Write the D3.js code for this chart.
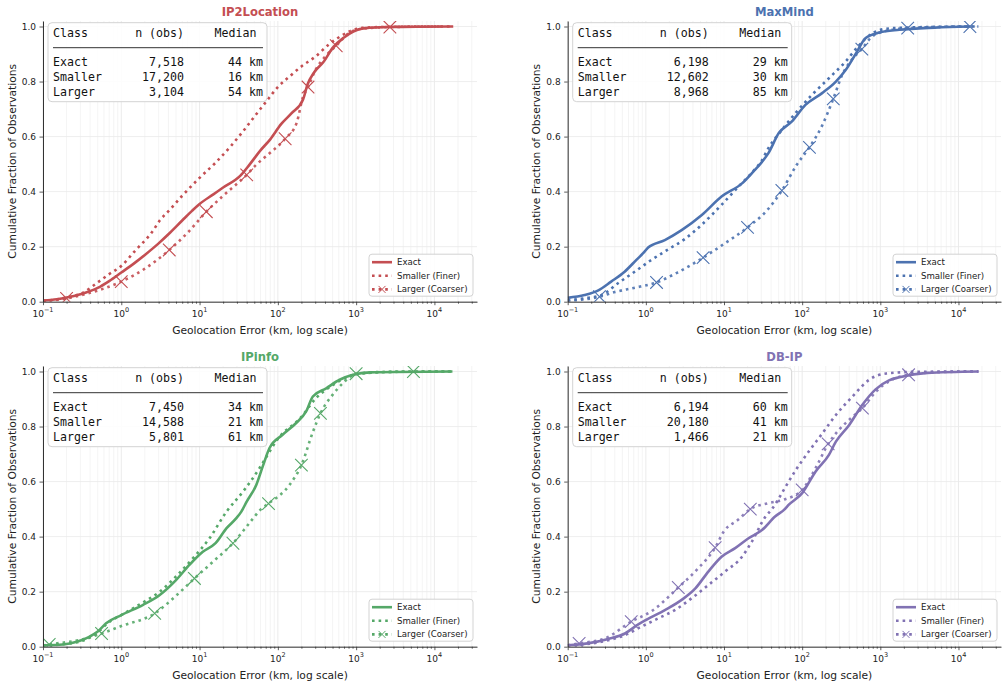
<!DOCTYPE html>
<html><head><meta charset="utf-8">
<script src="https://cdn.jsdelivr.net/npm/d3@7"></script>
<style>
body{margin:0;background:#fff;}
svg{display:block;font-family:"DejaVu Sans",sans-serif;}
</style></head><body>
<svg id="chart" width="1008" height="688"></svg>
<script>
// ---------------- DATA ----------------
const providers = ["IP2Location", "MaxMind", "IPinfo", "DB-IP"];
const seriesNames = ["Exact", "Smaller (Finer)", "Larger (Coarser)"];
const tableClasses = ["Exact", "Smaller", "Larger"];
const xTickValues = [0.1, 1, 10, 100, 1000, 10000];
const xTickExponents = ["\u22121", "0", "1", "2", "3", "4"];
const yTickValues = [0, 0.2, 0.4, 0.6, 0.8, 1.0];

// n (obs) and median (km) per class: Exact, Smaller, Larger
const ip2N = [7518, 17200, 3104];
const ip2Median = [44, 16, 54];
const maxN = [6198, 12602, 8968];
const maxMedian = [29, 30, 85];
const ipinfoN = [7450, 14588, 5801];
const ipinfoMedian = [34, 21, 61];
const dbipN = [6194, 20180, 1466];
const dbipMedian = [60, 41, 21];

// ECDF points: [error km, cumulative fraction]
const ip2Exact = [[0.1,0.004],[0.15,0.009],[0.2,0.015],[0.3,0.027],[0.5,0.05],[0.7,0.075],[1.0,0.106],[1.5,0.142],[2,0.17],[3,0.212],[4,0.245],[6,0.295],[8,0.33],[10,0.355],[15,0.39],[20,0.415],[33,0.457],[44,0.5],[60,0.55],[80,0.59],[110,0.645],[150,0.685],[210,0.735],[240,0.79],[290,0.833],[380,0.87],[510,0.925],[700,0.96],[920,0.982],[1300,0.994],[2500,0.998],[6000,0.999],[17400,1.0]];
const ip2Smaller = [[0.1,0.003],[0.2,0.015],[0.32,0.032],[0.5,0.07],[0.7,0.1],[1.0,0.13],[1.5,0.185],[2.5,0.255],[3.1,0.295],[4.2,0.335],[6,0.385],[10,0.45],[16,0.505],[25,0.565],[35,0.615],[50,0.672],[70,0.725],[100,0.78],[150,0.825],[200,0.855],[300,0.89],[450,0.935],[620,0.963],[850,0.984],[1200,0.995],[3000,0.999],[17400,1.0]];
const ip2Larger = [[0.1,0.002],[0.2,0.012],[0.35,0.028],[0.6,0.048],[1.0,0.073],[2.0,0.12],[4.1,0.188],[7,0.25],[12.2,0.327],[20,0.385],[40,0.461],[54,0.5],[79,0.54],[124,0.592],[174,0.65],[210,0.745],[243,0.78],[300,0.84],[400,0.89],[557,0.93],[800,0.975],[1200,0.992],[2700,0.998],[12000,1.0]];
const ip2LargerMarks = [0.2, 1.0, 4.1, 12.2, 40, 124, 243, 557, 2700];

const maxExact = [[0.1,0.014],[0.164,0.024],[0.243,0.04],[0.36,0.073],[0.535,0.109],[0.757,0.152],[0.95,0.18],[1.07,0.197],[1.75,0.224],[2.87,0.26],[5.2,0.315],[9.3,0.382],[17,0.43],[25,0.48],[29,0.5],[37,0.54],[50,0.612],[74,0.655],[110,0.715],[180,0.758],[270,0.8],[360,0.842],[490,0.903],[650,0.958],[970,0.978],[1750,0.988],[5000,0.996],[14000,1.0]];
const maxSmaller = [[0.1,0.005],[0.18,0.014],[0.27,0.024],[0.44,0.067],[0.72,0.109],[1.18,0.152],[1.93,0.19],[3.16,0.228],[5.2,0.28],[9.3,0.352],[15.3,0.418],[25,0.482],[30,0.51],[37,0.558],[55,0.624],[82,0.685],[134,0.752],[220,0.812],[360,0.873],[540,0.933],[800,0.976],[1290,0.993],[4000,0.998],[18000,1.0]];
const maxLarger = [[0.1,0.003],[0.15,0.007],[0.255,0.018],[0.4,0.035],[0.7,0.05],[1.37,0.07],[2.5,0.105],[5.4,0.16],[10,0.21],[20,0.27],[35,0.33],[55,0.404],[85,0.497],[124,0.561],[180,0.64],[250,0.737],[325,0.824],[430,0.879],[580,0.918],[750,0.958],[1000,0.978],[2240,0.994],[14000,1.0],[18000,1.0]];
const maxLargerMarks = [0.255, 1.37, 5.4, 20, 55, 124, 250, 580, 2240, 14000];

const ipinfoExact = [[0.1,0.005],[0.18,0.008],[0.27,0.018],[0.39,0.036],[0.5,0.055],[0.64,0.085],[1.0,0.115],[1.9,0.152],[3.1,0.188],[5,0.242],[7.4,0.297],[11,0.345],[16,0.376],[22,0.43],[29.5,0.467],[34,0.49],[40,0.527],[53,0.588],[65,0.66],[78,0.721],[115,0.77],[170,0.812],[230,0.855],[280,0.909],[415,0.939],[615,0.97],[910,0.988],[1500,0.997],[17000,1.0]];
const ipinfoSmaller = [[0.1,0.004],[0.27,0.016],[0.48,0.048],[0.71,0.091],[1.0,0.115],[1.9,0.161],[3.1,0.2],[5,0.255],[8.2,0.321],[13.4,0.394],[22,0.49],[36,0.564],[58,0.648],[68,0.68],[100,0.755],[200,0.835],[300,0.9],[500,0.95],[1000,0.99],[2000,0.998],[17000,1.0]];
const ipinfoLarger = [[0.1,0.004],[0.12,0.008],[0.3,0.025],[0.56,0.048],[1.0,0.075],[2.67,0.121],[5,0.185],[8.6,0.248],[15,0.31],[26.7,0.376],[45,0.455],[61,0.5],[76,0.52],[141,0.588],[200,0.66],[280,0.78],[350,0.848],[500,0.915],[680,0.958],[1000,0.992],[5400,1.0],[17000,1.0]];
const ipinfoLargerMarks = [0.12, 0.56, 2.67, 8.6, 26.7, 76, 200, 350, 1000, 5400];

const dbipExact = [[0.1,0.005],[0.18,0.012],[0.33,0.028],[0.54,0.048],[0.8,0.081],[1.0,0.097],[1.75,0.133],[2.87,0.17],[4.3,0.212],[6.3,0.273],[9.3,0.327],[13.9,0.358],[20.6,0.394],[30.6,0.424],[45,0.473],[60,0.5],[67,0.515],[100,0.558],[148,0.636],[220,0.697],[270,0.745],[400,0.806],[590,0.879],[870,0.935],[1290,0.968],[1750,0.979],[4000,0.995],[18000,1.0]];
const dbipSmaller = [[0.1,0.004],[0.27,0.018],[0.54,0.042],[0.88,0.073],[1.44,0.103],[2.35,0.133],[3.85,0.176],[6.3,0.224],[10.3,0.273],[17,0.327],[22.7,0.382],[34,0.473],[41,0.5],[61,0.58],[82,0.64],[122,0.71],[181,0.775],[270,0.842],[440,0.909],[720,0.97],[1200,0.993],[3000,0.999],[18000,1.0]];
const dbipLarger = [[0.1,0.005],[0.14,0.012],[0.3,0.03],[0.65,0.091],[1.2,0.13],[2.6,0.215],[4.5,0.28],[7.7,0.36],[10,0.42],[15,0.46],[21.7,0.5],[36,0.521],[59,0.535],[100,0.57],[148,0.648],[215,0.737],[300,0.79],[420,0.83],[590,0.867],[900,0.93],[1300,0.965],[2300,0.988],[5000,0.997],[18000,1.0]];
const dbipLargerMarks = [0.14, 0.65, 2.6, 7.7, 21.7, 100, 215, 590, 2300];

// ---------------- ASSEMBLY ----------------
const panelColors = ["#C44E52", "#4C72B0", "#55A868", "#8172B3"];
const panelData = [
  {title: providers[0], n: ip2N, med: ip2Median, series: [ip2Exact, ip2Smaller, ip2Larger], marks: ip2LargerMarks},
  {title: providers[1], n: maxN, med: maxMedian, series: [maxExact, maxSmaller, maxLarger], marks: maxLargerMarks},
  {title: providers[2], n: ipinfoN, med: ipinfoMedian, series: [ipinfoExact, ipinfoSmaller, ipinfoLarger], marks: ipinfoLargerMarks},
  {title: providers[3], n: dbipN, med: dbipMedian, series: [dbipExact, dbipSmaller, dbipLarger], marks: dbipLargerMarks}
];
const layouts = [
  {x0: 43, x1: 477, yTop: 21, yBot: 301.7},
  {x0: 567.7, x1: 1001, yTop: 21, yBot: 301.7},
  {x0: 43, x1: 477, yTop: 366, yBot: 646.7},
  {x0: 567.7, x1: 1001, yTop: 366, yBot: 646.7}
];
const xDomain = [0.1, 35000];
const yDomain = [0, 1.02];
const LW = 2.6;
const DOT = "2.6,4.0";

const svg = d3.select("#chart");
const fmtN = d3.format(",");

function interpY(series, xv) {
  const lx = Math.log10(xv);
  for (let i = 0; i < series.length - 1; i++) {
    const a = Math.log10(series[i][0]), b = Math.log10(series[i+1][0]);
    if (lx >= a && lx <= b) {
      const t = b === a ? 0 : (lx - a) / (b - a);
      return series[i][1] + t * (series[i+1][1] - series[i][1]);
    }
  }
  return series[series.length-1][1];
}

function drawX(g, cx, cy, r, color, sw) {
  g.append("path")
    .attr("d", `M${cx-r},${cy-r}L${cx+r},${cy+r}M${cx-r},${cy+r}L${cx+r},${cy-r}`)
    .attr("stroke", color).attr("stroke-width", sw).attr("fill", "none");
}

panelData.forEach((p, i) => {
  const L = layouts[i];
  const color = panelColors[i];
  const x = d3.scaleLog().domain(xDomain).range([L.x0, L.x1]);
  const y = d3.scaleLinear().domain(yDomain).range([L.yBot, L.yTop]);
  const g = svg.append("g");

  // grid
  const minor = [];
  for (let d = -1; d <= 4; d++) for (let k = 2; k <= 9; k++) {
    const v = k * Math.pow(10, d);
    if (v < xDomain[1]) minor.push(v);
  }
  g.append("g").selectAll("line").data(minor).join("line")
    .attr("x1", d => x(d)).attr("x2", d => x(d))
    .attr("y1", L.yTop).attr("y2", L.yBot)
    .attr("stroke", "#efefef").attr("stroke-width", 0.7);
  g.append("g").selectAll("line").data(xTickValues).join("line")
    .attr("x1", d => x(d)).attr("x2", d => x(d))
    .attr("y1", L.yTop).attr("y2", L.yBot)
    .attr("stroke", "#e6e6e6").attr("stroke-width", 0.8);
  g.append("g").selectAll("line").data(yTickValues).join("line")
    .attr("x1", L.x0).attr("x2", L.x1)
    .attr("y1", d => y(d)).attr("y2", d => y(d))
    .attr("stroke", "#eaeaea").attr("stroke-width", 0.8);

  // clip
  const cid = "clip" + i;
  svg.append("clipPath").attr("id", cid).append("rect")
    .attr("x", L.x0).attr("y", L.yTop).attr("width", L.x1 - L.x0).attr("height", L.yBot - L.yTop);

  const line = d3.line().x(d => x(d[0])).y(d => y(d[1])).curve(d3.curveMonotoneX);
  const lg = g.append("g").attr("clip-path", `url(#${cid})`);
  // Exact
  lg.append("path").attr("d", line(p.series[0])).attr("fill", "none")
    .attr("stroke", color).attr("stroke-width", LW).attr("stroke-linejoin", "round");
  // Smaller
  lg.append("path").attr("d", line(p.series[1])).attr("fill", "none")
    .attr("stroke", color).attr("stroke-width", LW).attr("stroke-dasharray", DOT);
  // Larger
  lg.append("path").attr("d", line(p.series[2])).attr("fill", "none")
    .attr("stroke", color).attr("stroke-width", LW).attr("stroke-dasharray", DOT).attr("opacity", 0.9);
  p.marks.forEach(m => {
    drawX(lg, x(m), y(interpY(p.series[2], m)), 6.3, color, 1.1);
  });

  // axes
  const xAxis = d3.axisBottom(x).tickValues(xTickValues).tickSize(3.5).tickSizeOuter(0).tickFormat("");
  const xa = g.append("g").attr("transform", `translate(0,${L.yBot})`).call(xAxis);
  const xMinor = d3.axisBottom(x).tickValues(minor).tickSize(2).tickSizeOuter(0).tickFormat("");
  const xm = g.append("g").attr("transform", `translate(0,${L.yBot})`).call(xMinor);
  xm.select(".domain").remove();
  [xa, xm].forEach(a => {
    a.select(".domain").attr("stroke", "#333").attr("stroke-width", 1);
    a.selectAll(".tick line").attr("stroke", "#333").attr("stroke-width", 0.8);
  });
  const xl = g.append("g");
  xTickValues.forEach((v, k) => {
    const t = xl.append("text").attr("x", x(v)).attr("y", L.yBot + 15.6)
      .attr("text-anchor", "middle").attr("fill", "#222").attr("font-size", "9px");
    t.append("tspan").text("10");
    t.append("tspan").attr("dy", -5.3).attr("font-size", "6.5px").text(xTickExponents[k]);
  });

  const yAxis = d3.axisLeft(y).tickValues(yTickValues).tickSize(3.5).tickPadding(3.5).tickSizeOuter(0)
    .tickFormat(d3.format(".1f"));
  const ya = g.append("g").attr("transform", `translate(${L.x0},0)`).call(yAxis);
  ya.select(".domain").attr("stroke", "#333").attr("stroke-width", 1);
  ya.selectAll(".tick line").attr("stroke", "#333").attr("stroke-width", 0.8);
  ya.selectAll(".tick text").attr("fill", "#222").attr("font-size", "9px")
    .attr("font-family", "DejaVu Sans, sans-serif");

  // labels
  g.append("text").attr("x", (L.x0 + L.x1) / 2).attr("y", L.yTop - 9)
    .attr("text-anchor", "middle").attr("dominant-baseline", "central")
    .attr("font-weight", "bold").attr("font-size", "11.6px").attr("fill", color).text(p.title);
  g.append("text").attr("x", (L.x0 + L.x1) / 2).attr("y", L.yBot + 29)
    .attr("text-anchor", "middle").attr("dominant-baseline", "central")
    .attr("font-size", "10.7px").attr("fill", "#222").text("Geolocation Error (km, log scale)");
  g.append("text")
    .attr("transform", `translate(${L.x0 - 31},${(L.yTop + L.yBot) / 2}) rotate(-90)`)
    .attr("text-anchor", "middle").attr("dominant-baseline", "central")
    .attr("font-size", "10.7px").attr("fill", "#222").text("Cumulative Fraction of Observations");

  // table box
  const tb = g.append("g").attr("transform", `translate(${L.x0 + 5},${L.yTop + 1.7})`);
  tb.append("rect").attr("width", 219).attr("height", 79).attr("rx", 4)
    .attr("fill", "white").attr("fill-opacity", 0.88).attr("stroke", "#d3d3d3").attr("stroke-width", 1);
  const mono = {"font-family": "'DejaVu Sans Mono', monospace", "font-size": "11.6px", "fill": "#111"};
  function tt(xx, yy, anchor, s) {
    const t = tb.append("text").attr("x", xx).attr("y", yy).attr("text-anchor", anchor)
      .attr("dominant-baseline", "central").text(s);
    Object.entries(mono).forEach(([k, v]) => t.attr(k, v));
  }
  tt(5, 10, "start", "Class");
  tt(136, 10, "end", "n (obs)");
  tt(208.5, 10, "end", "Median");
  tb.append("line").attr("x1", 5).attr("x2", 215).attr("y1", 25).attr("y2", 25)
    .attr("stroke", "#333").attr("stroke-width", 1);
  tableClasses.forEach((c, k) => {
    const yy = 39.6 + k * 14.8;
    tt(5, yy, "start", c);
    tt(136, yy, "end", fmtN(p.n[k]));
    tt(215, yy, "end", p.med[k] + " km");
  });

  // legend
  const lgd = g.append("g").attr("transform", `translate(${L.x1 - 108},${L.yBot - 47.5})`);
  lgd.append("rect").attr("width", 104).attr("height", 42).attr("rx", 3)
    .attr("fill", "white").attr("fill-opacity", 0.85).attr("stroke", "#d3d3d3").attr("stroke-width", 1);
  seriesNames.forEach((s, k) => {
    const yy = 8 + k * 13.6;
    const h = lgd.append("line").attr("x1", 3).attr("x2", 23).attr("y1", yy).attr("y2", yy)
      .attr("stroke", color).attr("stroke-width", LW);
    if (k > 0) h.attr("stroke-dasharray", DOT);
    if (k === 2) drawX(lgd, 13, yy, 3.5, color, 1);
    lgd.append("text").attr("x", 28).attr("y", yy).attr("dominant-baseline", "central")
      .attr("font-size", "8.6px").attr("fill", "#222").text(s);
  });
});
</script>
</body></html>
